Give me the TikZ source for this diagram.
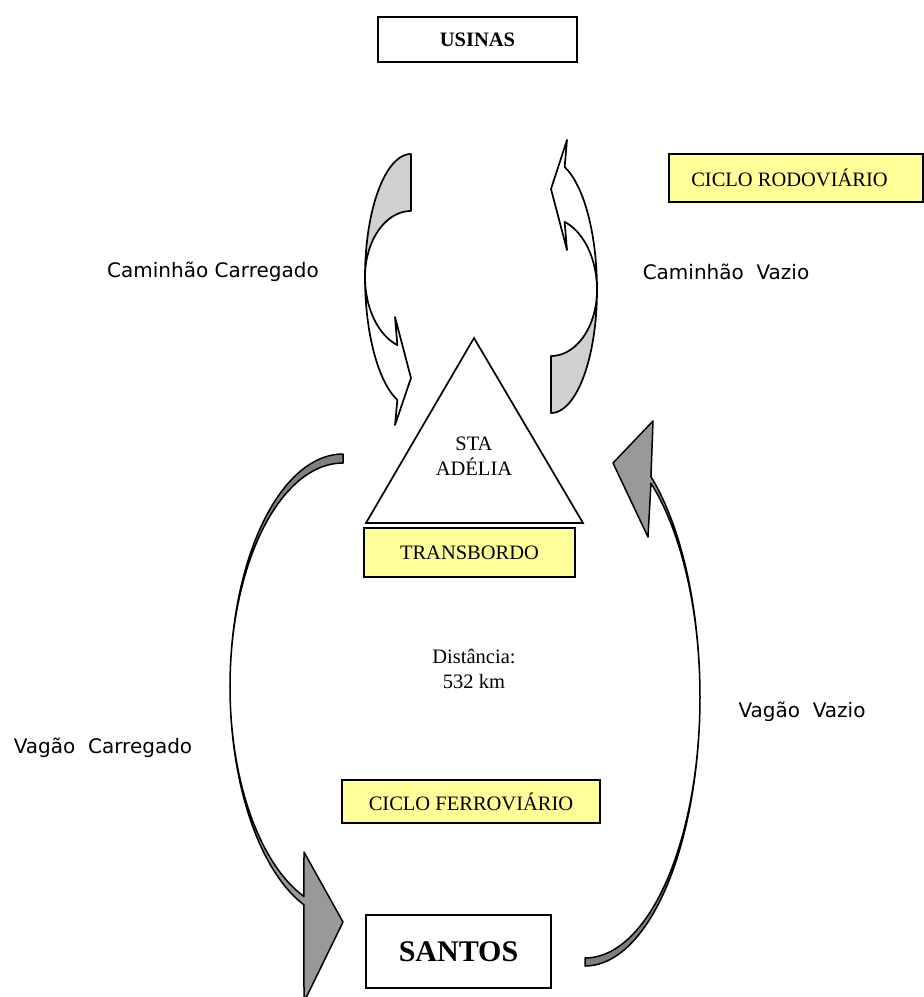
\documentclass[tikz,border=0pt]{standalone}
\usepackage{fontspec}
\setmainfont{Liberation Serif}
\newfontfamily\labelsans{DejaVu Sans}
\definecolor{boxyellow}{HTML}{FFFF99}
\definecolor{backgray}{HTML}{D0D0D0}
\definecolor{railback}{HTML}{7F7F7F}
\definecolor{railfront}{HTML}{999999}
\begin{document}
\begin{tikzpicture}[x=1pt,y=-1pt,
  plainbox/.style={draw, line width=1.8pt, fill=white, inner sep=0pt, font=\fontsize{20.5}{24.5}\selectfont\bfseries},
  yellowbox/.style={draw, line width=1.8pt, fill=boxyellow, inner sep=0pt, font=\fontsize{20.5}{24.5}\selectfont},
  sanslabel/.style={font=\labelsans\fontsize{20}{24}\selectfont, inner sep=0pt},
  seriflabel/.style={font=\fontsize{20.5}{24.5}\selectfont, inner sep=0pt, align=center},
  shapeline/.style={draw=black, line width=1.7pt, line join=round}
]
\useasboundingbox (0,0) rectangle (924,997);
\clip (0,0) rectangle (924,997);

% ---------- top boxes ----------
\node[plainbox, minimum width=199pt, minimum height=45pt] (usinas) at (477.5,39.5) {USINAS};
\node[yellowbox, minimum width=254pt, minimum height=48pt] (rodo) at (796,178) {CICLO RODOVIÁRIO\hspace*{13pt}};

% ---------- upper curved arrows (road cycle) ----------
\begin{scope}
  \draw[shapeline, fill=backgray] (411,154)
    -- plot[domain=-90:-180, samples=40] ({411+46*cos(\x)},{277+123*sin(\x)})
    -- plot[domain=-180:-90, samples=40] ({411+46*cos(\x)},{277+66*sin(\x)})
    -- cycle;
  \draw[shapeline, fill=white] (365,277)
    -- plot[domain=-180:-251, samples=40] ({413+48*cos(\x)},{277+130*sin(\x)})
    -- (395,425) -- (411,378) -- (395,317)
    -- plot[domain=-251:-180, samples=40] ({413+48*cos(\x)},{277+72*sin(\x)})
    -- cycle;
\end{scope}
\begin{scope}[rotate around={180:(481,283.5)}]
  \draw[shapeline, fill=backgray] (411,154)
    -- plot[domain=-90:-180, samples=40] ({411+46*cos(\x)},{277+123*sin(\x)})
    -- plot[domain=-180:-90, samples=40] ({411+46*cos(\x)},{277+66*sin(\x)})
    -- cycle;
  \draw[shapeline, fill=white] (365,277)
    -- plot[domain=-180:-251, samples=40] ({413+48*cos(\x)},{277+130*sin(\x)})
    -- (395,427) -- (411,378) -- (395,317)
    -- plot[domain=-251:-180, samples=40] ({413+48*cos(\x)},{277+72*sin(\x)})
    -- cycle;
\end{scope}

\node[sanslabel] (carregado) at (213,272) {Caminhão Carregado};
\node[sanslabel] (vazio) at (726,272) {Caminhão\ \ Vazio};

% ---------- transshipment triangle ----------
\coordinate (apex) at (474,338);
\coordinate (baseL) at (366,523);
\coordinate (baseR) at (583,523);
\draw[line width=1.7pt, line join=miter, fill=white] (apex) -- (baseL) -- (baseR) -- cycle;
\node[seriflabel] (sta) at (474,456) {STA\\ADÉLIA};
\node[yellowbox, minimum width=211pt, minimum height=49pt] (transb) at (469.5,552.5) {TRANSBORDO};

\node[seriflabel] (dist) at (474,669) {Distância:\\532 km};
\node[yellowbox, minimum width=258pt, minimum height=43pt] (ferro) at (471,801.5) {CICLO FERROVIÁRIO};

% ---------- lower curved arrows (rail cycle) ----------
% loaded wagon (left, going down)
\draw[shapeline, line width=1.5pt, fill=railback] (343,454)
  -- plot[domain=-90:-180, samples=50] ({343+113*cos(\x)},{686.6+232.6*sin(\x)})
  -- plot[domain=-180:-90, samples=50] ({343+113*cos(\x)},{686.6+223.6*sin(\x)})
  -- cycle;
\draw[shapeline, line width=1.5pt, fill=railfront] (230,686.6)
  -- plot[domain=-180:-249.8, samples=50] ({343+113*cos(\x)},{686.6+232.6*sin(\x)})
  -- (304,1002) -- (343,922) -- (304,852)
  -- plot[domain=-249.8:-180, samples=50] ({343+113*cos(\x)},{686.6+223.6*sin(\x)})
  -- cycle;
% empty wagon (right, going up)
\draw[shapeline, line width=1.5pt, fill=railback] (585,966)
  -- plot[domain=90:0, samples=50] ({585+115*cos(\x)},{697+269*sin(\x)})
  -- plot[domain=0:90, samples=50] ({585+115*cos(\x)},{697+261*sin(\x)})
  -- cycle;
\draw[shapeline, line width=1.5pt, fill=railfront] (700,697)
  -- plot[domain=0:-55, samples=50] ({585+115*cos(\x)},{697+269*sin(\x)})
  -- (653,421) -- (613,463) -- (648,537)
  -- plot[domain=-55:0, samples=50] ({585+115*cos(\x)},{697+261*sin(\x)})
  -- cycle;

\node[sanslabel] (vagcarr) at (103,748) {Vagão\ \ Carregado};
\node[sanslabel] (vagvaz) at (802,712) {Vagão\ \ Vazio};

\node[plainbox, font=\fontsize{30}{36}\selectfont\bfseries, minimum width=185pt, minimum height=73pt] (santos) at (458.5,951.5) {SANTOS};
\end{tikzpicture}
\end{document}
